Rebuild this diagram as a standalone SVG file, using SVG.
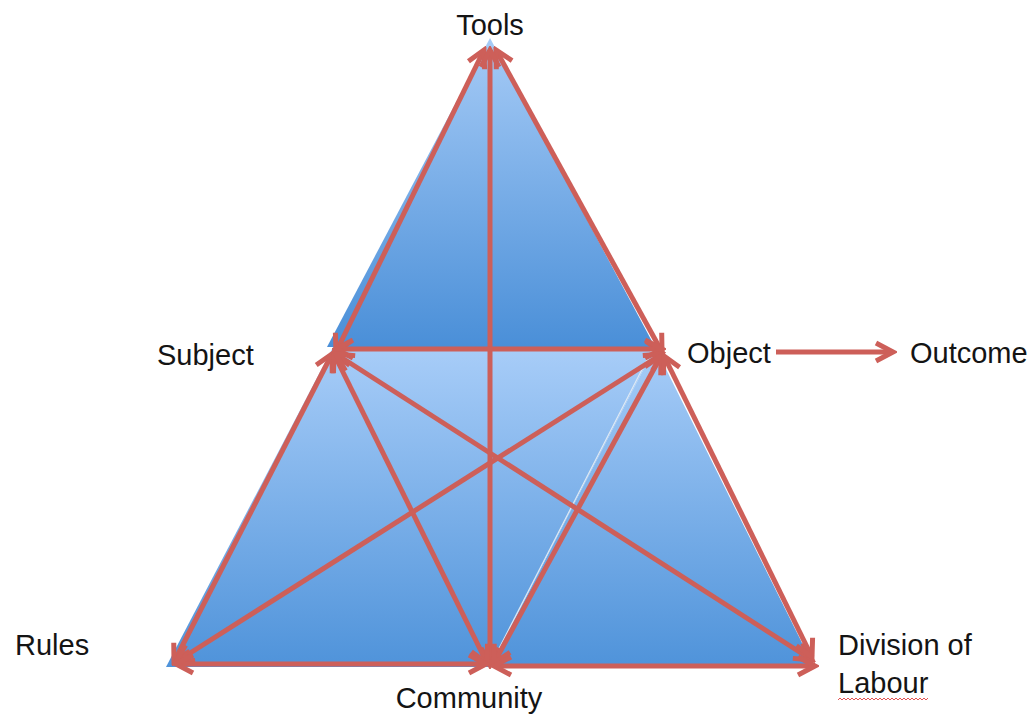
<svg xmlns="http://www.w3.org/2000/svg" width="1036" height="716" viewBox="0 0 1036 716">
  <style>
    .lbl { font-family: "Liberation Sans", Arial, sans-serif; font-size: 29px; fill: #141414; }
    .arr { stroke: #cd5f59; stroke-width: 5; fill: none; stroke-linecap: butt; }
    .dbl { marker-start: url(#head); marker-end: url(#head); }
    .sgl { marker-end: url(#head); }
  </style>
  <defs>
    <linearGradient id="gTop" gradientUnits="userSpaceOnUse" x1="0" y1="38" x2="0" y2="347">
      <stop offset="0" stop-color="#a6cbf6"/>
      <stop offset="1" stop-color="#4a8fd8"/>
    </linearGradient>
    <linearGradient id="gLow" gradientUnits="userSpaceOnUse" x1="0" y1="347" x2="0" y2="667">
      <stop offset="0" stop-color="#a8cdf8"/>
      <stop offset="1" stop-color="#4f93da"/>
    </linearGradient>
    <marker id="head" viewBox="0 0 24 24" markerWidth="24" markerHeight="24" refX="20" refY="12" orient="auto-start-reverse" markerUnits="userSpaceOnUse">
      <path d="M3,3 L20,12 L3,21" fill="none" stroke="#cd5f59" stroke-width="5" stroke-linejoin="miter"/>
    </marker>
  </defs>

  <rect x="0" y="0" width="1036" height="716" fill="#ffffff"/>

  <g id="triangles">
    <polygon points="490,38 327,347 655,347" fill="url(#gTop)"/>
    <polygon points="333,347 166,667 490,667" fill="url(#gLow)"/>
    <polygon points="333,347 655,347 490,667" fill="url(#gLow)"/>
    <polygon points="655,347 490,667 814,667" fill="url(#gLow)"/>
    <line x1="652" y1="350" x2="491" y2="664" stroke="#dfe9f4" stroke-width="1.2"/>
  </g>

  <g id="connectors">
    <line class="arr dbl" x1="336" y1="352" x2="484" y2="50"/>
    <line class="arr dbl" x1="496" y1="50" x2="662" y2="352"/>
    <line class="arr dbl" x1="490" y1="50" x2="490" y2="665"/>
    <line class="arr dbl" x1="336" y1="349" x2="662" y2="349"/>
    <line class="arr dbl" x1="332" y1="354" x2="174" y2="662"/>
    <line class="arr dbl" x1="334" y1="354" x2="487" y2="663"/>
    <line class="arr dbl" x1="336" y1="354" x2="812" y2="660"/>
    <line class="arr dbl" x1="662" y1="354" x2="176" y2="662"/>
    <line class="arr dbl" x1="661" y1="356" x2="494" y2="663"/>
    <line class="arr dbl" x1="664" y1="356" x2="812" y2="657"/>
    <line class="arr dbl" x1="176" y1="664" x2="486" y2="664"/>
    <line class="arr dbl" x1="494" y1="666" x2="815" y2="666"/>
    <line class="arr sgl" x1="776" y1="352" x2="893" y2="352"/>
  </g>

  <g id="tools"><text class="lbl" x="490" y="35" text-anchor="middle">Tools</text></g>
  <g id="subject"><text class="lbl" x="157" y="365">Subject</text></g>
  <g id="object"><text class="lbl" x="687" y="363">Object</text></g>
  <g id="outcome"><text class="lbl" x="910" y="363">Outcome</text></g>
  <g id="rules"><text class="lbl" x="15" y="655">Rules</text></g>
  <g id="community"><text class="lbl" x="469" y="708" text-anchor="middle">Community</text></g>
  <g id="division">
    <text class="lbl" x="838" y="655">Division of</text>
    <text class="lbl" x="838" y="693">Labour</text>
    <path d="M838,700 l2,-2 l2,2 l2,-2 l2,2 l2,-2 l2,2 l2,-2 l2,2 l2,-2 l2,2 l2,-2 l2,2 l2,-2 l2,2 l2,-2 l2,2 l2,-2 l2,2 l2,-2 l2,2 l2,-2 l2,2 l2,-2 l2,2 l2,-2 l2,2 l2,-2 l2,2 l2,-2 l2,2 l2,-2 l2,2 l2,-2 l2,2 l2,-2 l2,2 l2,-2 l2,2 l2,-2 l2,2 l2,-2 l2,2 l2,-2 l2,2 l2,-2" fill="none" stroke="#e04040" stroke-width="0.9"/>
  </g>
</svg>
